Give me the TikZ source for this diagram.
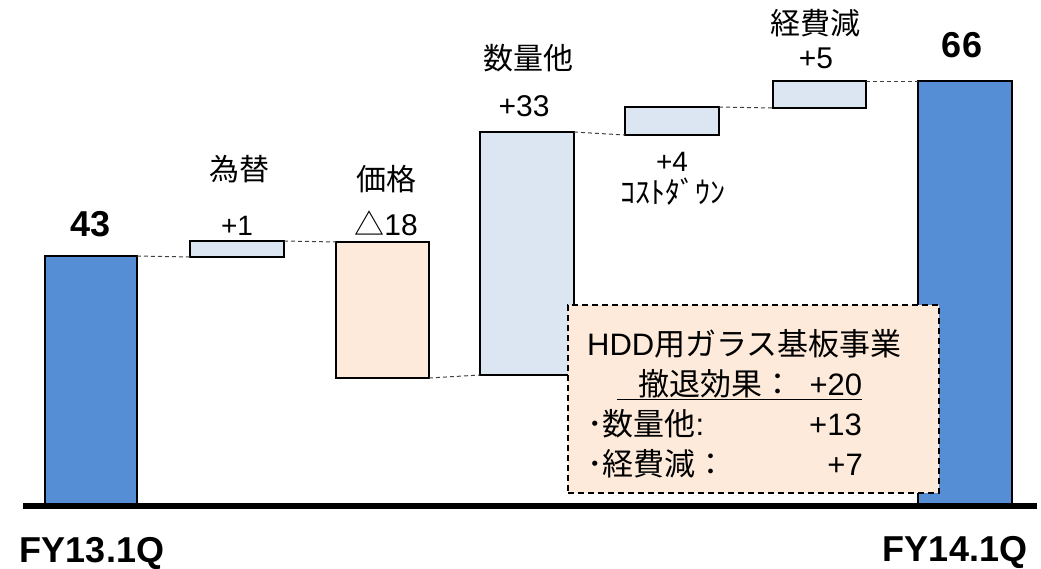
\documentclass[tikz,border=0pt]{standalone}
\usepackage{fontspec}
\setmainfont{Liberation Sans}
\newfontfamily\jp{Noto Sans CJK JP}
\definecolor{barblue}{HTML}{558ED5}
\definecolor{barpale}{HTML}{DCE6F2}
\definecolor{barpeach}{HTML}{FDEADA}

\begin{document}
\begin{tikzpicture}[x=1pt, y=-1pt,
		bar/.style={draw, line width=2.5pt, inner sep=0pt, outer sep=0pt, anchor=north west},
		link/.style={dash pattern=on 4pt off 3pt, line width=1pt, black!75},
		lbl/.style={inner sep=0pt, font=\fontsize{30pt}{36pt}\selectfont},
		big/.style={inner sep=0pt, font=\bfseries\fontsize{36pt}{42pt}\selectfont},
		note/.style={inner sep=0pt, font=\fontsize{31pt}{40pt}\selectfont}]
		\useasboundingbox (0,0) rectangle (1041,568);
		
		% bars
		\node[bar, fill=barblue, minimum width=92pt, minimum height=249pt] (fy13) at (45,256) {};
		\node[bar, fill=barpale, minimum width=94pt, minimum height=16pt] (fx) at (190,241) {};
		\node[bar, fill=barpeach, minimum width=93pt, minimum height=136pt] (price) at (336,242) {};
		\node[bar, fill=barpale, minimum width=94pt, minimum height=243pt] (vol) at (480,132) {};
		\node[bar, fill=barpale, minimum width=94pt, minimum height=28pt] (cost) at (625,107) {};
		\node[bar, fill=barpale, minimum width=93pt, minimum height=27pt] (exp) at (773,81) {};
		\node[bar, fill=barblue, minimum width=94pt, minimum height=424pt] (fy14) at (918,81) {};
		
		\draw[link] (fy13.north east) -- (fx.south west);
		\draw[link] (fx.north east) -- (price.north west);
		\draw[link] (price.south east) -- (vol.south west);
		\draw[link] (vol.north east) -- (cost.south west);
		\draw[link] (cost.north east) -- (exp.south west);
		\draw[link] (exp.north east) -- (fy14.north west);
		
		% labels
		\node[big] (v43) at (91,224) {43};
		\node[lbl] (tfx) at (239,169) {\jp 為替};
		\node[lbl, font=\fontsize{28pt}{32pt}\selectfont] (vfx) at (237,226) {+1};
		\node[lbl] (tprice) at (386,179) {\jp 価格};
		\node[lbl] (vprice) at (386,223) {{\jp △}18};
		\node[lbl] (tvol) at (528,58) {\jp 数量他};
		\node[lbl] (vvol) at (524,106) {+33};
		\node[lbl, font=\fontsize{28pt}{32pt}\selectfont] (vcost) at (672,162) {+4};
		\node[lbl] (tcost) at (673,192) {\jp ｺｽﾄﾀﾞｳﾝ};
		\node[lbl] (texp) at (815,23) {\jp 経費減};
		\node[lbl] (vexp) at (816,58) {+5};
		\node[big] (v66) at (962,45) {66};
		\node[big] (fy13l) at (92,553) {FY13.1Q};
		\node[big] (fy14l) at (955,552) {FY14.1Q};
		
		% note box
		\node[draw, fill=barpeach, line width=2pt, dash pattern=on 6pt off 4pt, inner sep=0pt, anchor=north west,
			minimum width=371pt, minimum height=188pt] (hdd) at (567,304) {};
		\node[note, anchor=base west] (h1) at (587,355) {HDD{\jp 用ガラス基板事業}};
		\node[note, anchor=base west] (h2) at (617,395) {\underline{\makebox[245pt][l]{\hspace{21pt}{\jp 撤退効果：}\hfill+20}}};
		\node[note, anchor=base west] (h3) at (587,435) {{\jp ･数量他}:};
		\node[note, anchor=base east] (v3) at (862,435) {+13};
		\node[note, anchor=base west] (h4) at (587,475) {\jp ･経費減：};
		\node[note, anchor=base east] (v4) at (863,475) {+7};
		
		\draw[line width=6pt] (23,506) -- (1037,506);
	\end{tikzpicture}
\end{document}
